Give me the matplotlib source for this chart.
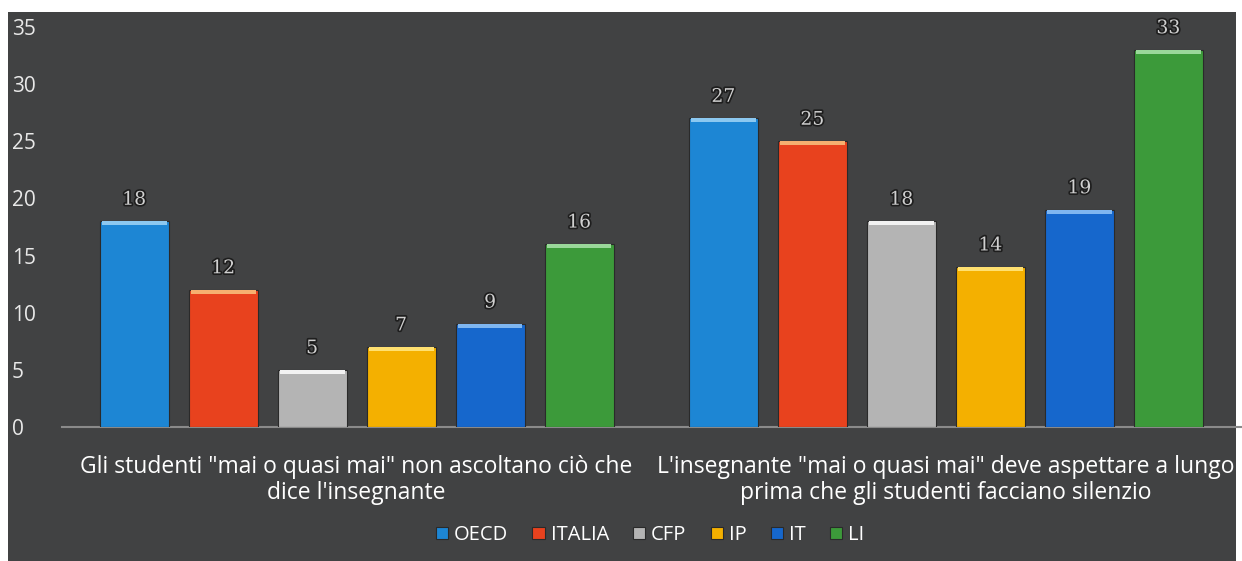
import matplotlib
matplotlib.use("Agg")
import matplotlib.pyplot as plt
import matplotlib.patheffects as pe
from matplotlib.patches import Rectangle
import numpy as np

categories = [
    "Gli studenti \"mai o quasi mai\" non ascoltano ciò che\ndice l'insegnante",
    "L'insegnante \"mai o quasi mai\" deve aspettare a lungo\nprima che gli studenti facciano silenzio",
]
series_names = ["OECD", "ITALIA", "CFP", "IP", "IT", "LI"]
oecd = [18, 27]
italia = [12, 25]
cfp = [5, 18]
ip = [7, 14]
it = [9, 19]
li = [16, 33]
series_values = [oecd, italia, cfp, ip, it, li]
colors = ["#1d86d4", "#e8421e", "#b4b4b4", "#f4b000", "#1667cc", "#3c9a3a"]
top_colors = ["#8cc8f0", "#f6b070", "#f2f2f2", "#ffe070", "#7fb6f0", "#9ad89a"]
yticks = [0, 5, 10, 15, 20, 25, 30, 35]

bg = "#414243"
fig = plt.figure(figsize=(12.42, 5.61), dpi=100, facecolor="white")
# dark panel behind the chart
fig.patches.append(Rectangle((8 / 1242, 0), (1236 - 8) / 1242, (561 - 12) / 561,
                             transform=fig.transFigure, facecolor=bg,
                             edgecolor="none", zorder=-5))

ax = fig.add_axes([62 / 1242, (561 - 427) / 561, (1240.5 - 62) / 1242, 400 / 561])
ax.set_facecolor("none")
ax.set_xlim(-0.5, 1.5)
ax.set_ylim(0, 35)

x = np.arange(len(categories))
step = 0.151
width = 0.117
n = len(series_names)
label_fx = [pe.withStroke(linewidth=2.5, foreground="#1e1e1e")]
for i, (name, vals) in enumerate(zip(series_names, series_values)):
    pos = x + (i - (n - 1) / 2) * step
    ax.bar(pos, vals, width=width, color=colors[i], edgecolor="#2a2a2a",
           linewidth=0.8, label=name, zorder=3)
    # lighter bevel on top of each bar
    ax.bar(pos, [0.35] * len(vals), bottom=[v - 0.35 for v in vals],
           width=width * 0.94, color=top_colors[i], linewidth=0, zorder=4)
    for p, v in zip(pos, vals):
        ax.text(p, v + 1.1, str(v), ha="center", va="bottom", fontsize=13.5,
                family="DejaVu Serif", color="#d0d0d0", path_effects=label_fx,
                zorder=5)

for s in ["top", "right", "left"]:
    ax.spines[s].set_visible(False)
ax.spines["bottom"].set_color("#8a8a8a")
ax.spines["bottom"].set_linewidth(1.5)

ax.set_yticks(yticks)
ax.set_yticklabels([str(t) for t in yticks], family="Open Sans", fontsize=15,
                   color="#e8e8e8", ha="left")
ax.tick_params(axis="y", length=0, pad=36)
ax.set_xticks(x)
ax.set_xticklabels(categories, family="Open Sans", fontsize=16.5, color="white",
                   linespacing=1.15)
ax.tick_params(axis="x", length=0, pad=20)

leg = fig.legend(loc="center", bbox_to_anchor=(650 / 1242, 1 - 535 / 561), ncol=6,
                 frameon=False, prop={"family": "Open Sans", "size": 14.5},
                 handlelength=0.6, handleheight=0.6, handletextpad=0.3,
                 columnspacing=1.2, labelcolor="white")

fig.savefig("out.png", dpi=100, facecolor=fig.get_facecolor())
